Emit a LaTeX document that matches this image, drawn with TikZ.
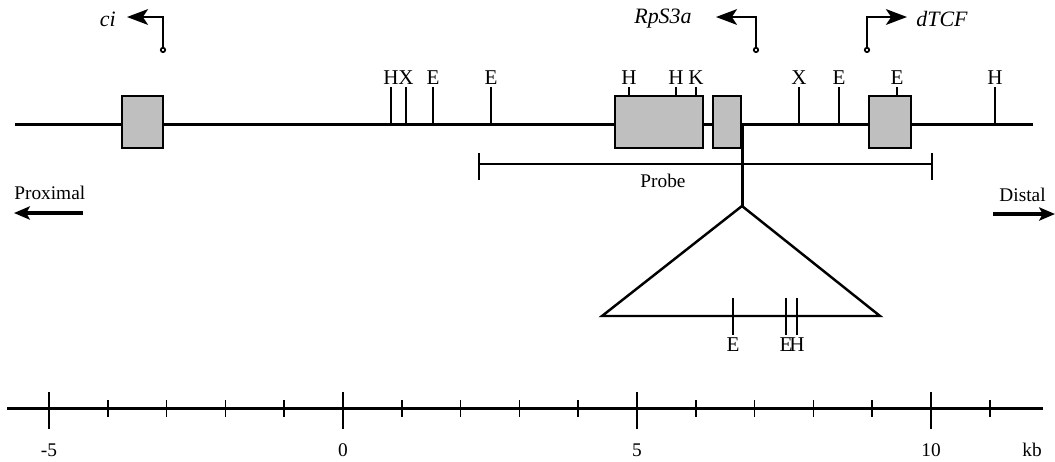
\documentclass[tikz,border=0pt]{standalone}
\usepackage{fontspec}
\setmainfont{Liberation Serif}
\usetikzlibrary{arrows.meta}

\begin{document}
\begin{tikzpicture}[x=0.02cm,y=-0.02cm,
    genomic/.style={line width=1.7pt},
    exon/.style={draw,line width=1.2pt,fill=black!25},
    site/.style={line width=0.9pt},
    sitelabel/.style={font=\fontsize{12}{14}\selectfont,inner sep=1pt},
    gene/.style={font=\fontsize{12.5}{14}\selectfont\itshape,inner sep=0pt},
    promoter/.style={line width=1pt,{Circle[length=3.5pt,open,fill=white]}-{Stealth[length=12pt,width=9pt,inset=3pt]}},
    side/.style={font=\fontsize{11}{13}\selectfont,inner sep=0pt},
    direction/.style={line width=2pt,-{Stealth[length=9pt,width=7.5pt,inset=2pt]}}]
   \useasboundingbox (0,0) rectangle (1055,461);
   % genomic map
   \draw[genomic] (15,124) -- (1033,124);
   \foreach \x/\l in {391/H,406/X,433/E,491/E,799/X,839/E,995/H}
      \draw[site] (\x,124) -- (\x,87) node[above,sitelabel] {\l};
   \foreach \x/\l in {629/H,676/H,696/K,897/E}
      \draw[site] (\x,96) -- (\x,87) node[above,sitelabel] {\l};
   \draw[exon] (122,96) rectangle (163,148);
   \draw[exon] (615,96) rectangle (703,148);
   \draw[exon] (713,96) rectangle (741,148);
   \draw[exon] (869,96) rectangle (911,148);
   % promoters
   \node[gene,anchor=east] (ci) at (116,19) {ci};
   \node[gene] (rps) at (663,19) {RpS3a};
   \node[gene,anchor=west] (tcf) at (916,19) {dTCF};
   \coordinate (ci_p) at (163,53);
   \coordinate (rps_p) at (756,53);
   \coordinate (tcf_p) at (867,53);
   \draw[promoter] (ci_p) -- (163,17) -- (127,17);
   \draw[promoter] (rps_p) -- (756,17) -- (716,17);
   \draw[promoter] (tcf_p) -- (867,17) -- (907,17);
   % probe
   \draw[line width=0.7pt] (479,153) -- (479,180) (479,164) -- (932,164) (932,153) -- (932,180);
   \node[side] (probe) at (663,181) {Probe};
   % insertion
   \coordinate (ins) at (742,206);
   \draw[line width=1.7pt] (742,124) -- (ins);
   \draw[line width=1.4pt,line join=miter] (ins) -- (602,316) -- (880,316) -- cycle;
   \foreach \x/\l in {733/E,786/E,797/H}
      \draw[site] (\x,298) -- (\x,335) node[below,sitelabel] {\l};
   % proximal / distal
   \node[side,anchor=west] (prox) at (14,193) {Proximal};
   \node[side,anchor=east] (dist) at (1046,195) {Distal};
   \draw[direction] (83,213) -- (14,213);
   \draw[direction] (993,214) -- (1055,214);
   % scale
   \draw[genomic] (7,408) -- (1043,408);
   \foreach \k in {-5,...,11}
      \draw[line width=1pt] ({343+58.8*\k},400) -- ({343+58.8*\k},417);
   \foreach \k in {-5,0,5,10}{
      \draw[line width=1pt] ({343+58.8*\k},392) -- ({343+58.8*\k},429);
      \node[side] at ({343+58.8*\k},450) {\k};}
   \node[side] (kb) at (1032,450) {kb};
\end{tikzpicture}
\end{document}
